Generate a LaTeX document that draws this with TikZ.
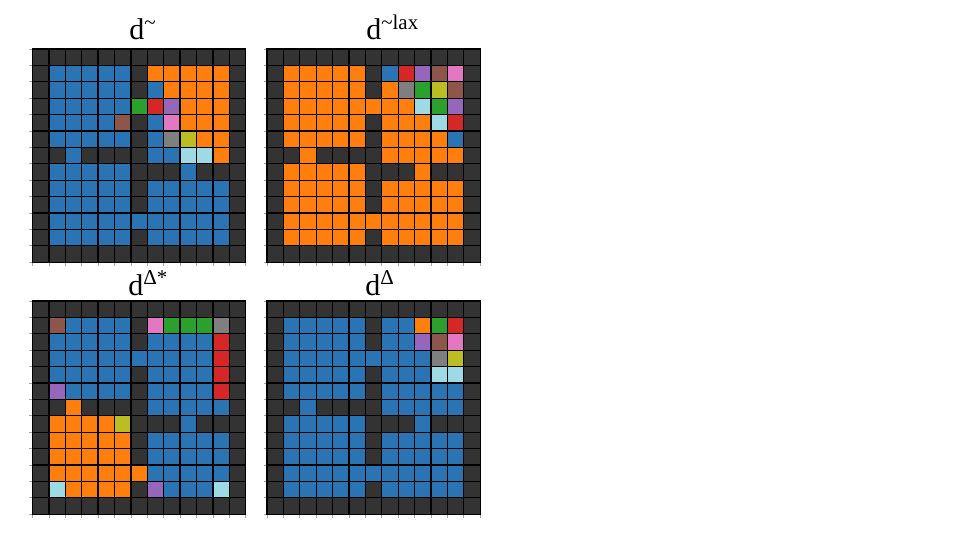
\documentclass[tikz,border=0pt]{standalone}
\usepackage{fontspec}
\setmainfont{Liberation Serif}
\definecolor{cK}{HTML}{333333}
\definecolor{cB}{HTML}{2A74B4}
\definecolor{cO}{HTML}{FF7F0E}
\definecolor{cG}{HTML}{2CA02C}
\definecolor{cR}{HTML}{D62728}
\definecolor{cP}{HTML}{9467BD}
\definecolor{cN}{HTML}{8C564B}
\definecolor{cI}{HTML}{E377C2}
\definecolor{cY}{HTML}{7F7F7F}
\definecolor{cL}{HTML}{BCBD22}
\definecolor{cC}{HTML}{9EDAE5}
\def\cellsz{16.4}
\newcount\cellx
\def\drawrow#1#2#3{\global\cellx=0\relax\def\rowx{#1}\def\rowy{#2}\dorow#3\relax}
\def\dorow#1{\ifx#1\relax\else
  \path[cellbox,fill=c#1] (\rowx+\the\cellx*\cellsz,\rowy) rectangle ++(\cellsz,\cellsz);%
  \global\advance\cellx by 1\relax
  \expandafter\dorow\fi}
\newcommand\gridticks{%
  \foreach \k in {0,...,13} {
    \draw[tickmark] (\gx-3.5,\gy+\k*\cellsz) -- (\gx,\gy+\k*\cellsz);
    \draw[tickmark] (\gx+\k*\cellsz,\gy+13*\cellsz) -- (\gx+\k*\cellsz,\gy+13*\cellsz+3.5);
  }}
\newcommand\R[2]{\drawrow{\gx}{\gy+#1*\cellsz}{#2}}
\begin{document}
\begin{tikzpicture}[x=0.75pt,y=-0.75pt,
  cellbox/.style={draw=black,line width=1pt},
  tickmark/.style={draw=gray!70,line width=0.5pt},
  title/.style={inner sep=0pt,anchor=base west,font=\fontsize{22.5}{27}\selectfont}]
\useasboundingbox[fill=white] (0,0) rectangle (969,545);

% grid 1
\def\gx{32.5}\def\gy{49}
\gridticks
\R{0}{KKKKKKKKKKKKK}
\R{1}{KBBBBBKOOOOOK}
\R{2}{KBBBBBKBOOOOK}
\R{3}{KBBBBBGRPOOOK}
\R{4}{KBBBBNKBIOOOK}
\R{5}{KBBBBBKBYLOOK}
\R{6}{KKBKKKKBBCCOK}
\R{7}{KBBBBBKKKBKKK}
\R{8}{KBBBBBKBBBBBK}
\R{9}{KBBBBBKBBBBBK}
\R{10}{KBBBBBBBBBBBK}
\R{11}{KBBBBBKBBBBBK}
\R{12}{KKKKKKKKKKKKK}

% grid 2
\def\gx{267}\def\gy{49}
\gridticks
\R{0}{KKKKKKKKKKKKK}
\R{1}{KOOOOOKBRPNIK}
\R{2}{KOOOOOKOYGLNK}
\R{3}{KOOOOOOOOCGPK}
\R{4}{KOOOOOKOOOCRK}
\R{5}{KOOOOOKOOOOBK}
\R{6}{KKOKKKKOOOOOK}
\R{7}{KOOOOOKKKOKKK}
\R{8}{KOOOOOKOOOOOK}
\R{9}{KOOOOOKOOOOOK}
\R{10}{KOOOOOOOOOOOK}
\R{11}{KOOOOOKOOOOOK}
\R{12}{KKKKKKKKKKKKK}

% grid 3
\def\gx{32.5}\def\gy{301}
\gridticks
\R{0}{KKKKKKKKKKKKK}
\R{1}{KNBBBBKIGGGYK}
\R{2}{KBBBBBKBBBBRK}
\R{3}{KBBBBBBBBBBRK}
\R{4}{KBBBBBKBBBBRK}
\R{5}{KPBBBBKBBBBRK}
\R{6}{KKOKKKKBBBBBK}
\R{7}{KOOOOLKKKBKKK}
\R{8}{KOOOOOKBBBBBK}
\R{9}{KOOOOOKBBBBBK}
\R{10}{KOOOOOOBBBBBK}
\R{11}{KCOOOOKPBBBCK}
\R{12}{KKKKKKKKKKKKK}

% grid 4
\def\gx{267}\def\gy{301}
\gridticks
\R{0}{KKKKKKKKKKKKK}
\R{1}{KBBBBBKBBOGRK}
\R{2}{KBBBBBKBBPNIK}
\R{3}{KBBBBBBBBBYLK}
\R{4}{KBBBBBKBBBCCK}
\R{5}{KBBBBBKBBBBBK}
\R{6}{KKBKKKKBBBBBK}
\R{7}{KBBBBBKKKBKKK}
\R{8}{KBBBBBKBBBBBK}
\R{9}{KBBBBBKBBBBBK}
\R{10}{KBBBBBBBBBBBK}
\R{11}{KBBBBBKBBBBBK}
\R{12}{KKKKKKKKKKKKK}

% titles
\node[title] (t1) at (129,40) {d\textsuperscript{\textasciitilde}};
\node[title] (t2) at (366,40) {d\textsuperscript{\textasciitilde lax}};
\node[title] (t3) at (128,295) {d\textsuperscript{Δ*}};
\node[title] (t4) at (365,295) {d\textsuperscript{Δ}};
\end{tikzpicture}
\end{document}
